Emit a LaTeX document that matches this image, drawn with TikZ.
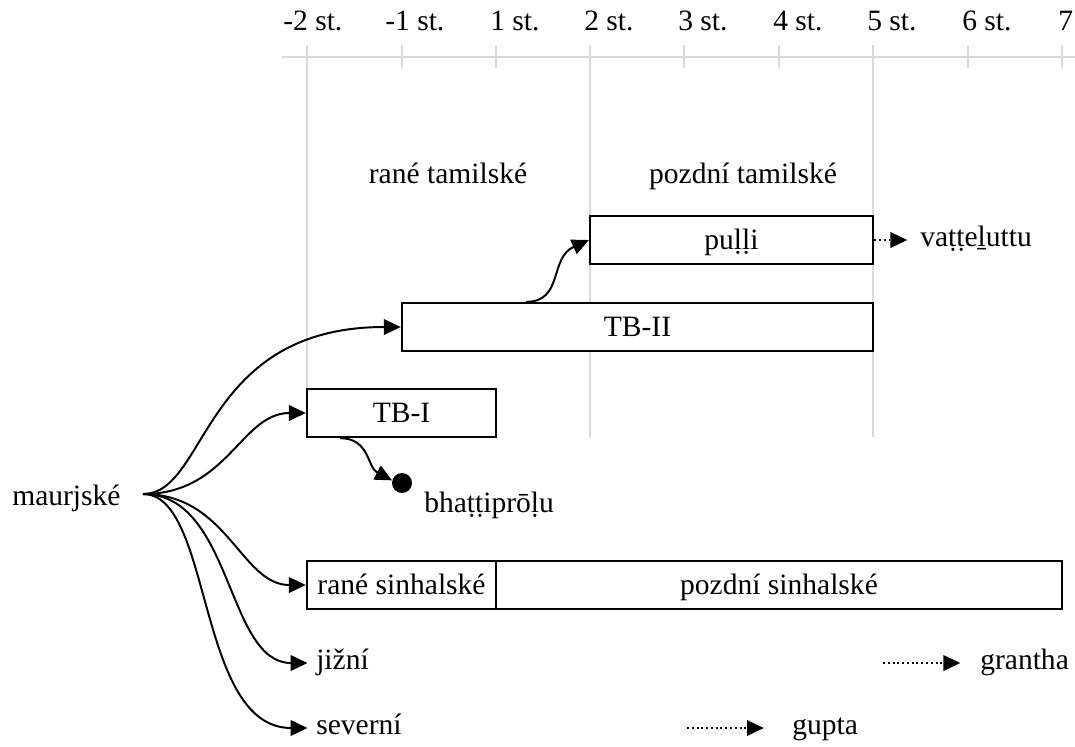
\documentclass[tikz,border=0pt]{standalone}
\usepackage{fontspec}
\setmainfont{Liberation Serif}
\usetikzlibrary{arrows.meta}

\definecolor{gridgrey}{RGB}{217,217,217}

\begin{document}
\begin{tikzpicture}[x=0.025cm, y=-0.025cm,
    every node/.style={font=\fontsize{21}{25}\selectfont},
    txt/.style={inner sep=0pt, text height=14.5pt, text depth=5pt},
    periodbox/.style={draw, fill=white, line width=1.6pt, minimum height=1.2cm,
        inner sep=0pt, text height=18pt, text depth=4pt},
    branch/.style={line width=1.4pt, -{Triangle[length=12pt,width=11pt]}},
    dotarrow/.style={line width=1.4pt, dotted, -{Triangle[length=12pt,width=11pt]}},
    timeline/.style={gridgrey, line width=2.1pt}]
    \useasboundingbox (0,0) rectangle (1075,746);

    % --- time axis ---
    \draw[timeline] (282,57) -- (1075,57);
    \foreach \x in {402,496,684,779,968,1062}
        \draw[timeline] (\x,45) -- (\x,68);
    \foreach \x in {307,590,873}
        \draw[timeline] (\x,45) -- (\x,437);
    \foreach \x/\t in {283/-2 st., 385/-1 st., 490/1 st., 584/2 st., 678/3 st.,
                       773/4 st., 867/5 st., 962/6 st., 1058/7}
        \node[anchor=base west, inner sep=0pt] (ax\x) at (\x,30) {\t};

    % --- tamil periods ---
    \node[anchor=base] (ranetam) at (448,183) {rané tamilské};
    \node[anchor=base] (pozdtam) at (743,183) {pozdní tamilské};

    % --- scripts ---
    \node[periodbox, minimum width=7.075cm] (pulli) at (731.5,240) {puḷḷi};
    \node[periodbox, minimum width=11.775cm] (tbtwo) at (637.5,327) {TB-II};
    \node[periodbox, minimum width=4.725cm] (tbone) at (401.5,413) {TB-I};
    \node[periodbox, minimum width=4.725cm] (ranesin) at (401.5,585) {rané sinhalské};
    \node[periodbox, minimum width=14.15cm] (pozdsin) at (779,585) {pozdní sinhalské};

    \node[circle, fill, minimum size=0.5cm, inner sep=0pt] (bhdot) at (402,483) {};
    \node[anchor=base west, inner sep=0pt] (bhatt) at (424,512) {bhaṭṭiprōḷu};
    \node[txt, anchor=west] (vatt) at (920,240) {vaṭṭeḻuttu};
    \node[txt, anchor=west] (jizni) at (316,663) {jižní};
    \node[txt, anchor=west] (severni) at (316,728) {severní};
    \node[txt, anchor=west] (grantha) at (980,663) {grantha};
    \node[txt, anchor=west] (gupta) at (792,728) {gupta};

    % Maurya source
    \node[anchor=base west, inner sep=0pt] (maur) at (12,505) {maurjské};
    \coordinate (maurout) at (143,494);
    \coordinate (granthatail) at (883,663);
    \coordinate (guptatail) at (687,728);

    % --- connectors ---
    \draw[branch] (maurout) .. controls +(65,0) and +(-200,0) .. (tbtwo.west);
    \draw[branch] (maurout) .. controls +(85,0) and +(-65,0) .. (tbone.west);
    \draw[branch] (maurout) .. controls +(85,0) and +(-65,0) .. (ranesin.west);
    \draw[branch, shorten >=6pt] (maurout) .. controls +(90,0) and +(-90,0) .. (jizni.west);
    \draw[branch, shorten >=6pt] (maurout) .. controls +(70,0) and +(-120,0) .. (severni.west);
    \draw[branch] ([xshift=3.125cm]tbtwo.north west) .. controls +(38,0) and +(-40,18) .. (pulli.west);
    \draw[branch] ([xshift=0.85cm]tbone.south west) .. controls +(30,0) and +(-25,-13) .. (bhdot.165);

    % dotted continuations
    \draw[dotarrow, shorten >=9pt] (pulli.east) -- (vatt.west);
    \draw[dotarrow, shorten >=14pt] (granthatail) -- (grantha.west);
    \draw[dotarrow, shorten >=20pt] (guptatail) -- (gupta.west);
\end{tikzpicture}
\end{document}
